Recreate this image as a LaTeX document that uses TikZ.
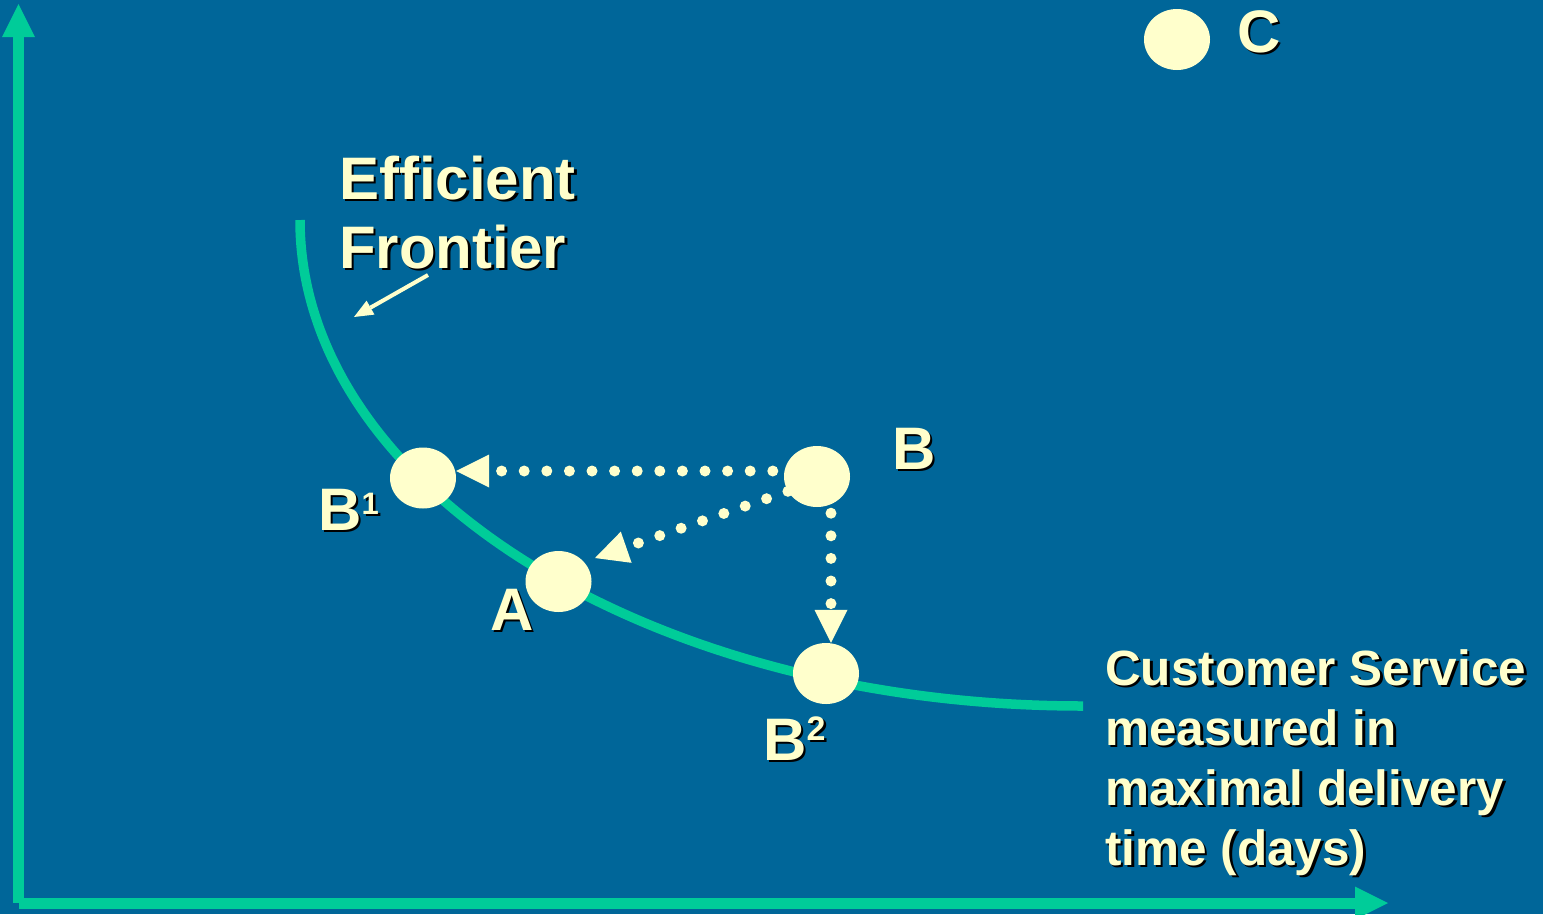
\documentclass[tikz,border=0pt]{standalone}
\usepackage{fontspec}
\setmainfont{Liberation Sans}
\usetikzlibrary{arrows.meta,shapes.geometric}
\definecolor{bgblue}{RGB}{0,102,153}
\definecolor{axisgreen}{RGB}{0,204,153}
\definecolor{cream}{RGB}{255,255,204}
\newcommand\shd[1]{\rlap{\kern2.5pt\raisebox{-2.5pt}{\color{black}#1}}#1}
\tikzset{
  axisline/.style={draw=axisgreen, line width=11pt, line cap=butt,
    -{Triangle[length=33pt,width=33pt,line width=0pt]}},
  frontier/.style={draw=axisgreen, line width=9.5pt, line cap=butt},
  point/.style={ellipse, fill=cream, draw=none, minimum width=66pt, minimum height=61pt, inner sep=0pt},
  lbl/.style={text=cream, font=\bfseries\fontsize{60}{60}\selectfont, inner sep=0pt, anchor=base west},
  axlbl/.style={text=cream, font=\bfseries\fontsize{49.5}{60}\selectfont, inner sep=0pt, anchor=base west},
  dotarrow/.style={draw=cream, line width=11pt, line cap=round, dash pattern=on 0pt off 22.6pt,
    -{Triangle[length=33pt,width=33pt,line width=0pt]}},
  pointer/.style={draw=cream, line width=4pt, -{Triangle[length=19pt,width=16pt,line width=0pt]}}
}
\begin{document}
\begin{tikzpicture}[x=1pt,y=-1pt]
\fill[bgblue] (0,0) rectangle (1543,914);
\useasboundingbox (0,0) rectangle (1543,914);

% axes
\coordinate (O) at (18.5,903);
\coordinate (ytip) at (18.5,4);
\coordinate (xtip) at (1388,903);
\draw[axisline] (O) -- (ytip);
\draw[axisline] (O) -- (xtip);

% efficient frontier (quarter of an ellipse)
\coordinate (fstart) at (300,220);
\draw[frontier] (fstart) arc[start angle=180, end angle=90, x radius=783, y radius=486];

% points
\node[point] (B1) at (423,478) {};
\node[point] (A) at (558.5,581.5) {};
\node[point] (B) at (817,476.5) {};
\node[point] (B2) at (826,673.5) {};
\node[point] (C) at (1177,39.5) {};

% labels
\node[lbl] (lB) at (892,469) {\shd{B}};
\node[lbl] (lB1) at (318,530) {\shd{B\raisebox{16pt}{\fontsize{31}{31}\selectfont 1}}};
\node[lbl] (lB2) at (763,760) {\shd{B\raisebox{20pt}{\fontsize{34}{34}\selectfont 2}}};
\node[lbl] (lA) at (490,630) {\shd{A}};
\node[lbl] (lC) at (1237,52) {\shd{C}};

\node[lbl] (ef1) at (339,199) {\shd{Efficient}};
\node[lbl] (ef2) at (339,268) {\shd{Frontier}};

\node[axlbl] (cs1) at (1105,685) {\shd{Customer Service}};
\node[axlbl] (cs2) at (1105,745) {\shd{measured in}};
\node[axlbl] (cs3) at (1105,805) {\shd{maximal delivery}};
\node[axlbl] (cs4) at (1105,865) {\shd{time (days)}};

% pointer to the frontier
\coordinate (p1) at (428,275);
\coordinate (p2) at (354,317);
\draw[pointer] (p1) -- (p2);

% dotted moves
\draw[dotarrow, dash phase=11.6pt] ([yshift=5.5pt]B.west) -- ([yshift=7pt]B1.east);
\draw[dotarrow] (B.207) -- ([shift={(36.5,-23.5)}]A.center);
\draw[dotarrow, dash phase=16.6pt] ([xshift=14pt]B.south) -- ([xshift=5pt]B2.north);
\end{tikzpicture}
\end{document}
